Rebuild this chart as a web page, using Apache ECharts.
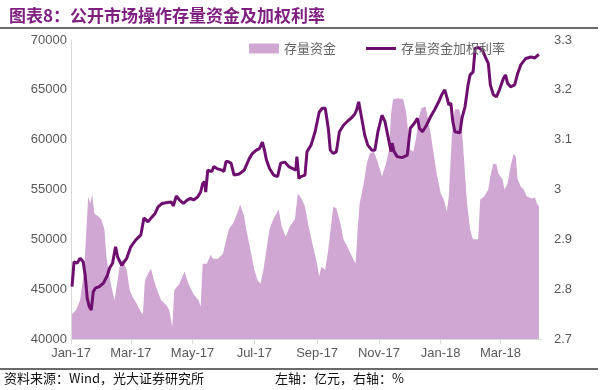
<!DOCTYPE html>
<html>
<head>
<meta charset="utf-8">
<script src="https://cdn.jsdelivr.net/npm/echarts@6/dist/echarts.min.js"></script>
<style>
html,body{margin:0;padding:0;background:#fff;}
#c{width:600px;height:390px;}
</style>
</head>
<body>
<div id="c"></div>
<script>
// ---- data ----
const titleText = '图表8：公开市场操作存量资金及加权利率';
const seriesNames = ['存量资金', '存量资金加权利率'];
const leftTicks = [40000, 45000, 50000, 55000, 60000, 65000, 70000];
const rightTicks = [2.7, 2.8, 2.9, 3, 3.1, 3.2, 3.3];
const monthNames = ['Jan','Feb','Mar','Apr','May','Jun','Jul','Aug','Sep','Oct','Nov','Dec'];

// 存量资金 (亿元)
const fundDates = [
 '2017-01-02','2017-01-06','2017-01-10','2017-01-14','2017-01-18','2017-01-20','2017-01-22','2017-01-24','2017-01-28','2017-01-31',
 '2017-02-03','2017-02-05','2017-02-08','2017-02-10','2017-02-13','2017-02-16','2017-02-18','2017-02-21','2017-02-25','2017-02-28',
 '2017-03-03','2017-03-07','2017-03-11','2017-03-13','2017-03-15','2017-03-18','2017-03-21','2017-03-23','2017-03-26','2017-03-31',
 '2017-04-05','2017-04-08','2017-04-11','2017-04-13','2017-04-18','2017-04-23','2017-04-27','2017-05-02','2017-05-07','2017-05-09',
 '2017-05-11','2017-05-15','2017-05-19','2017-05-21','2017-05-26','2017-05-31','2017-06-04','2017-06-06','2017-06-10','2017-06-14',
 '2017-06-17','2017-06-21','2017-06-23','2017-06-27','2017-07-01','2017-07-04','2017-07-07','2017-07-10','2017-07-13','2017-07-16',
 '2017-07-20','2017-07-25','2017-07-28','2017-08-01','2017-08-05','2017-08-10','2017-08-13','2017-08-17','2017-08-20','2017-08-23',
 '2017-08-28','2017-09-01','2017-09-03','2017-09-05','2017-09-09','2017-09-12','2017-09-15','2017-09-17','2017-09-20','2017-09-24',
 '2017-09-27','2017-10-02','2017-10-07','2017-10-09','2017-10-11','2017-10-13','2017-10-17','2017-10-20','2017-10-23','2017-10-27',
 '2017-10-30','2017-11-02','2017-11-04','2017-11-08','2017-11-11','2017-11-13','2017-11-15','2017-11-20','2017-11-25','2017-11-28',
 '2017-11-30','2017-12-02','2017-12-05','2017-12-08','2017-12-10','2017-12-13','2017-12-17','2017-12-19','2017-12-22','2017-12-25',
 '2017-12-28','2018-01-01','2018-01-04','2018-01-07','2018-01-09','2018-01-12','2018-01-15','2018-01-19','2018-01-21','2018-01-24',
 '2018-01-27','2018-01-30','2018-02-01','2018-02-02','2018-02-07','2018-02-09','2018-02-13','2018-02-17','2018-02-19','2018-02-22',
 '2018-02-25','2018-02-27','2018-03-03','2018-03-05','2018-03-08','2018-03-11','2018-03-14','2018-03-16','2018-03-18','2018-03-21',
 '2018-03-24','2018-03-27','2018-04-01','2018-04-04','2018-04-06','2018-04-08'
];
const fundValues = [
 42500,42900,43900,46950,54300,53600,54500,52600,52300,52000,
 51000,48250,46250,45200,43900,45900,47250,47950,46950,44900,
 44200,43500,42700,42500,45900,46550,47050,46250,45200,43900,
 43400,42900,41200,44900,45550,46750,45550,44500,43900,43200,
 47550,47550,48450,48050,48050,48550,50250,51050,51600,52600,
 53500,52300,51000,49000,46950,45950,45550,46950,49000,51000,
 52100,53000,51300,50250,51300,52000,54600,54000,53300,51600,
 49250,47550,46250,47250,46950,49000,51600,53300,53100,51600,
 50000,49000,47950,47550,51000,53600,55600,57600,58600,58800,
 58000,57000,56300,57600,59000,62650,64050,64150,64050,62650,
 60650,59000,58800,60350,62050,63150,63350,62350,60650,58600,
 56600,54600,54000,52800,54300,60350,63050,63050,62350,58000,
 53600,51000,50250,50000,50000,54000,54300,55000,56300,57600,
 57500,56600,56000,55000,55600,57300,58600,58300,56000,55300,
 55000,54300,54100,54200,53600,53300
];

// 存量资金加权利率 (%)
const rateDates = [
 '2017-01-02','2017-01-04','2017-01-07','2017-01-10','2017-01-13','2017-01-15','2017-01-17','2017-01-19','2017-01-21','2017-01-23',
 '2017-01-25','2017-01-29','2017-02-02','2017-02-06','2017-02-08','2017-02-11','2017-02-14','2017-02-16','2017-02-20','2017-02-25',
 '2017-03-01','2017-03-06','2017-03-11','2017-03-14','2017-03-18','2017-03-22','2017-03-25','2017-03-28','2017-04-01','2017-04-06',
 '2017-04-10','2017-04-12','2017-04-15','2017-04-18','2017-04-22','2017-04-26','2017-04-29','2017-05-02','2017-05-06','2017-05-09',
 '2017-05-11','2017-05-13','2017-05-14','2017-05-16','2017-05-20','2017-05-22','2017-05-25','2017-05-30','2017-06-01','2017-06-03',
 '2017-06-05','2017-06-08','2017-06-11','2017-06-16','2017-06-21','2017-06-26','2017-06-29','2017-07-03','2017-07-06','2017-07-09',
 '2017-07-11','2017-07-13','2017-07-16','2017-07-20','2017-07-24','2017-07-27','2017-07-31','2017-08-04','2017-08-08','2017-08-11',
 '2017-08-12','2017-08-14','2017-08-16','2017-08-20','2017-08-22','2017-08-26','2017-08-30','2017-09-03','2017-09-06','2017-09-09',
 '2017-09-12','2017-09-14','2017-09-17','2017-09-20','2017-09-23','2017-09-27','2017-10-01','2017-10-05','2017-10-08','2017-10-10',
 '2017-10-12','2017-10-15','2017-10-18','2017-10-21','2017-10-25','2017-10-28','2017-10-31','2017-11-04','2017-11-07','2017-11-10',
 '2017-11-13','2017-11-14','2017-11-16','2017-11-19','2017-11-24','2017-11-29','2017-12-02','2017-12-06','2017-12-09','2017-12-11',
 '2017-12-14','2017-12-18','2017-12-22','2017-12-26','2017-12-30','2018-01-02','2018-01-05','2018-01-07','2018-01-09','2018-01-11',
 '2018-01-13','2018-01-15','2018-01-20','2018-01-22','2018-01-25','2018-01-28','2018-01-30','2018-02-02','2018-02-04','2018-02-07',
 '2018-02-11','2018-02-14','2018-02-17','2018-02-19','2018-02-22','2018-02-25','2018-02-28','2018-03-04','2018-03-06','2018-03-08',
 '2018-03-11','2018-03-15','2018-03-18','2018-03-21','2018-03-26','2018-03-31','2018-04-04','2018-04-06','2018-04-08'
];
const rateValues = [
 2.805,2.855,2.852,2.862,2.855,2.828,2.782,2.765,2.758,2.795,
 2.802,2.805,2.812,2.828,2.842,2.852,2.885,2.865,2.848,2.862,
 2.885,2.899,2.909,2.943,2.935,2.945,2.952,2.965,2.972,2.974,
 2.975,2.967,2.987,2.979,2.972,2.979,2.982,2.979,2.985,2.995,
 3.012,3.016,2.995,3.039,3.036,3.046,3.042,3.039,3.036,3.056,
 3.056,3.053,3.029,3.031,3.039,3.062,3.072,3.079,3.082,3.095,
 3.079,3.059,3.042,3.029,3.026,3.053,3.055,3.046,3.042,3.039,
 3.066,3.022,3.026,3.029,3.076,3.089,3.116,3.155,3.163,3.163,
 3.123,3.079,3.072,3.076,3.116,3.129,3.137,3.144,3.151,3.160,
 3.176,3.143,3.109,3.089,3.079,3.079,3.116,3.149,3.136,3.106,
 3.076,3.093,3.076,3.066,3.064,3.069,3.123,3.133,3.143,3.123,
 3.116,3.129,3.146,3.160,3.176,3.190,3.200,3.186,3.170,3.173,
 3.136,3.116,3.114,3.143,3.166,3.210,3.230,3.236,3.283,3.285,
 3.280,3.266,3.253,3.210,3.190,3.186,3.200,3.223,3.230,3.213,
 3.206,3.210,3.233,3.250,3.263,3.266,3.264,3.268,3.271
];
const footerLeft = '资料来源：Wind，光大证券研究所';
const footerRight = '左轴：亿元，右轴：%';

// ---- chart ----
const fundData = fundDates.map((d, i) => [d, fundValues[i]]);
const rateData = rateDates.map((d, i) => [d, rateValues[i]]);

const chart = echarts.init(document.getElementById('c'), null, {renderer: 'canvas'});
const labelFont = 'Liberation Sans, Arial, sans-serif';
const cjkFont = '"Noto Sans CJK SC", sans-serif';

chart.setOption({
  animation: false,
  backgroundColor: '#ffffff',
  title: {
    text: titleText,
    left: 4, top: 2,
    textStyle: {color: '#7F1F80', fontSize: 17, fontWeight: 'bold', fontFamily: cjkFont}
  },
  legend: {
    left: 244, top: 37,
    itemWidth: 30, itemHeight: 10, itemGap: 30,
    symbolKeepAspect: true,
    textStyle: {color: '#666666', fontSize: 13, fontFamily: cjkFont},
    data: [
      {name: seriesNames[0], icon: 'rect'},
      {name: seriesNames[1], icon: 'path://M0,0 L30,0 L30,3 L0,3 Z'}
    ]
  },
  grid: {left: 71, right: 58, top: 40, bottom: 51},
  xAxis: {
    type: 'time',
    min: '2017-01-01', max: '2018-04-11',
    splitNumber: 7,
    axisLine: {show: true, lineStyle: {color: '#D9D9D9', width: 1}},
    axisTick: {show: true, length: 5, lineStyle: {color: '#D9D9D9'}},
    splitLine: {show: false},
    axisLabel: {
      color: '#595959', fontSize: 13, fontFamily: labelFont, margin: 8,
      formatter: function (v) {
        const d = new Date(v);
        return monthNames[d.getMonth()] + '-' + String(d.getFullYear()).slice(2);
      }
    }
  },
  yAxis: [
    {
      type: 'value', min: leftTicks[0], max: leftTicks[leftTicks.length - 1], interval: 5000,
      axisLine: {show: true, lineStyle: {color: '#D9D9D9'}},
      axisTick: {show: false},
      splitLine: {show: false},
      axisLabel: {color: '#595959', fontSize: 13, fontFamily: labelFont, margin: 4,
        formatter: function (v) { return String(Math.round(v)); }}
    },
    {
      type: 'value', min: rightTicks[0], max: rightTicks[rightTicks.length - 1], interval: 0.1,
      axisLine: {show: false},
      axisTick: {show: false},
      splitLine: {show: false},
      axisLabel: {color: '#595959', fontSize: 13, fontFamily: labelFont, margin: 12,
        formatter: function (v) { return String(Math.round(v * 10) / 10); }}
    }
  ],
  series: [
    {
      name: seriesNames[0], type: 'line', yAxisIndex: 0,
      data: fundData, symbol: 'none', showSymbol: false,
      lineStyle: {width: 0, color: '#D0A6D3'},
      itemStyle: {color: '#D0A6D3'},
      areaStyle: {color: '#D0A6D3', opacity: 1},
      z: 1
    },
    {
      name: seriesNames[1], type: 'line', yAxisIndex: 1,
      data: rateData, symbol: 'none', showSymbol: false,
      lineStyle: {width: 3, color: '#6E0F70'},
      itemStyle: {color: '#6E0F70'},
      z: 3
    }
  ],
  graphic: [
    {type: 'line', shape: {x1: 0, y1: 28, x2: 598, y2: 28}, style: {stroke: '#3a3a3a', lineWidth: 1.5}},
    {type: 'line', shape: {x1: 0, y1: 369, x2: 598, y2: 369}, style: {stroke: '#3a3a3a', lineWidth: 1.5}},
    {type: 'text', left: 4, top: 372, style: {text: footerLeft, fill: '#111111', font: '13px "Noto Sans CJK SC", sans-serif'}},
    {type: 'text', left: 275, top: 372, style: {text: footerRight, fill: '#111111', font: '13px "Noto Sans CJK SC", sans-serif'}}
  ]
});
</script>
</body>
</html>
